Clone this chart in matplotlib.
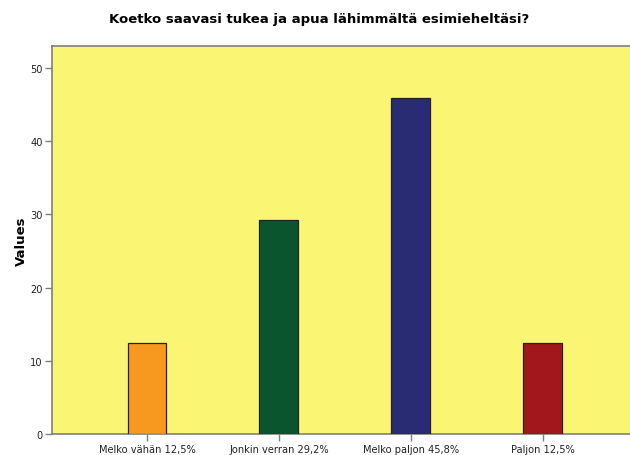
import matplotlib
matplotlib.use('Agg')
import matplotlib.pyplot as plt

categories = ['Melko vähän 12,5%', 'Jonkin verran 29,2%', 'Melko paljon 45,8%', 'Paljon 12,5%']
values = [12.5, 29.2, 45.8, 12.5]
bar_colors = ['#F8991F', '#0B552E', '#292B73', '#A1171C']
yticks = [0, 10, 20, 30, 40, 50]

FRAME = '#7F7F7F'

fig = plt.figure(figsize=(6.3, 4.56), dpi=100)
ax = fig.add_axes([0.0825, 0.045, 0.9175, 0.853])
ax.set_facecolor('#FAF573')

x = list(range(len(categories)))
ax.bar(x, values, width=0.295, color=bar_colors, edgecolor='#222222', linewidth=0.9, zorder=3)

ax.set_xlim(-0.72, 3.66)
ax.set_ylim(0, 53.0)
ax.set_xticks(x)
ax.set_xticklabels(categories, fontsize=7.1, color='#222222')
ax.set_yticks(yticks)
ax.set_yticklabels([str(t) for t in yticks], fontsize=7.1, color='#222222')
ax.tick_params(axis='both', length=5, width=1, color=FRAME, pad=1.5, direction='out')

for side in ('left', 'top', 'bottom'):
    ax.spines[side].set_color(FRAME)
    ax.spines[side].set_linewidth(1.2)
ax.spines['right'].set_visible(False)

ax.set_ylabel('Values', fontsize=9.5, fontweight='bold', labelpad=2)
fig.text(0.506, 0.958, 'Koetko saavasi tukea ja apua lähimmältä esimieheltäsi?',
         ha='center', va='center', fontsize=9.5, fontweight='bold')

fig.savefig('out.png', dpi=100)
